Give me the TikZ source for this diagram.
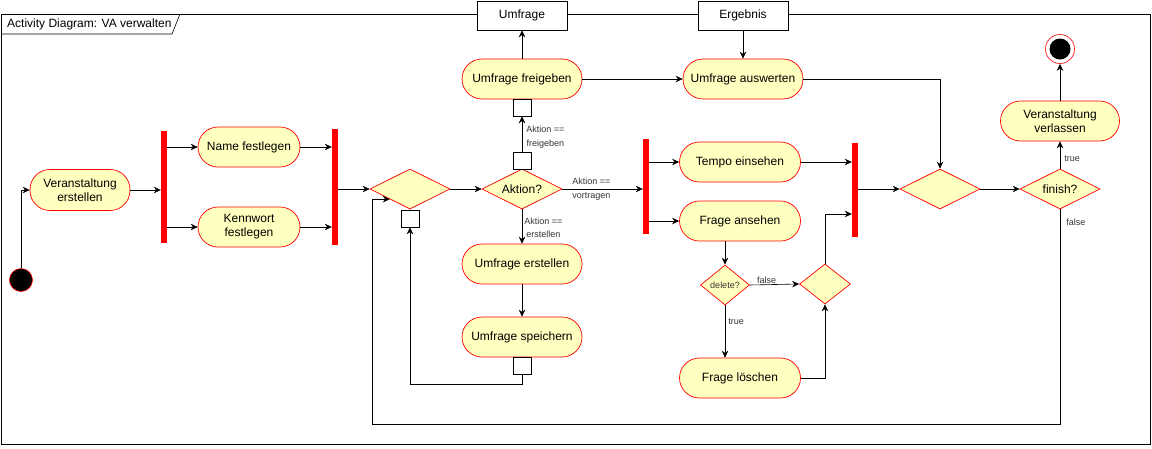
\documentclass[tikz,border=0pt]{standalone}
\usepackage{fontspec}
\setmainfont{Liberation Sans}
\usetikzlibrary{shapes.geometric,arrows.meta,calc}
\definecolor{actfill}{RGB}{255,255,192}
\begin{document}
\begin{tikzpicture}[x=1pt,y=-1pt,
  every node/.style={font=\fontsize{12}{14}\selectfont},
  act/.style={draw=red, line width=0.7pt, fill=actfill, rounded corners=20pt, align=center, inner sep=0pt, minimum height=40pt},
  dec/.style={diamond, draw=red, line width=0.7pt, fill=actfill, inner sep=0pt},
  bar/.style={fill=red, draw=none, minimum width=6pt, inner sep=0pt},
  pin/.style={draw=black, fill=white, line width=0.6pt, minimum width=18pt, minimum height=17pt, inner sep=0pt},
  obj/.style={draw=black, fill=white, line width=0.6pt, minimum width=90pt, minimum height=29pt, inner sep=0pt},
  arr/.style={-{Stealth[length=7pt,width=6.5pt]}, line width=0.6pt},
  lbl/.style={font=\fontsize{9}{13.5}\selectfont, text=black!80, align=center, inner sep=1pt},
]
\useasboundingbox (0,0) rectangle (1152,448);
% frame
\draw[line width=0.6pt] (1,14) rectangle (1150,444);
\draw[line width=0.6pt] (1,34) -- (172,34) -- (180,14);
\node[anchor=west, inner sep=0pt] (title) at (7,24) {Activity Diagram: VA verwalten};

% object nodes
\node[obj] (umf) at (522,15.5) {Umfrage};
\node[obj] (erg) at (743,15.5) {Ergebnis};

% initial / final
\node[circle, fill=black, draw=red, line width=0.6pt, minimum size=23pt, inner sep=0pt] (init) at (21,280) {};
\node[circle, draw=red, fill=white, line width=0.6pt, minimum size=29pt, inner sep=0pt] (fin) at (1060,49) {};
\node[circle, fill=black, minimum size=21pt, inner sep=0pt] (fincore) at (fin) {};

% activities
\node[act, minimum width=100pt, minimum height=41pt] (ve) at (80,190) {Veranstaltung\\erstellen};
\node[act, minimum width=102pt] (nf) at (249,147) {Name festlegen};
\node[act, minimum width=102pt] (kf) at (249,227) {Kennwort\\festlegen};
\node[act, minimum width=120pt] (uf) at (522,79) {Umfrage freigeben};
\node[act, minimum width=120pt] (ua) at (743,79) {Umfrage auswerten};
\node[act, minimum width=120pt] (ue) at (522,264) {Umfrage erstellen};
\node[act, minimum width=120pt] (us) at (522,337) {Umfrage speichern};
\node[act, minimum width=121pt] (te) at (740,162) {Tempo einsehen};
\node[act, minimum width=121pt] (fa) at (740,221) {Frage ansehen};
\node[act, minimum width=121pt] (fl) at (740,378) {Frage löschen};
\node[act, minimum width=119pt] (vv) at (1060,121) {Veranstaltung\\verlassen};

% bars
\node[bar, minimum height=112pt] (b1) at (164,187) {};
\node[bar, minimum height=116pt] (b2) at (335,187) {};
\node[bar, minimum height=95pt] (b3) at (646,186.5) {};
\node[bar, minimum height=94pt] (b4) at (855,190) {};

% decisions
\node[dec, minimum width=80pt, minimum height=40pt] (m1) at (410,189) {};
\node[dec, minimum width=80pt, minimum height=40pt, label={center:Aktion?}] (ak) at (522,189) {};
\node[dec, minimum width=80pt, minimum height=40pt] (m3) at (940,189) {};
\node[dec, minimum width=80pt, minimum height=40pt, label={center:finish?}] (fi) at (1060,189) {};
\node[dec, minimum width=49pt, minimum height=40pt, label={[font=\fontsize{9}{11}\selectfont, text=black!80]center:delete?}] (del) at (725,285) {};
\node[dec, minimum width=51pt, minimum height=40pt] (m4) at (825,284) {};

% pins
\node[pin] (p1) at (410,218.5) {};
\node[pin] (p2) at (522,161) {};
\node[pin] (p3) at (522,107.5) {};
\node[pin] (p4) at (522,365.5) {};

\coordinate (lp) at (372,424);
\coordinate (m1sw) at ($(m1.west)!0.5!(m1.south)$);

% connectors
\draw[arr] (init.north) |- (ve.west);
\draw[arr] (ve.east) -- (ve.east -| b1.west);
\draw[arr] (b1.east |- nf.west) -- (nf.west);
\draw[arr] (b1.east |- kf.west) -- (kf.west);
\draw[arr] (nf.east) -- (nf.east -| b2.west);
\draw[arr] (kf.east) -- (kf.east -| b2.west);
\draw[arr] (b2.east |- m1.west) -- (m1.west);
\draw[arr] (m1.east) -- (ak.west);
\draw[arr] (p2.north) -- node[lbl, anchor=west, pos=0.42, xshift=3pt] {Aktion ==\\freigeben} (p3.south);
\draw[arr] (uf.north) -- (umf.south);
\draw[arr] (uf.east) -- (ua.west);
\draw[arr] (erg.south) -- (ua.north);
\draw[arr] (ua.east) -| (m3.north);
\draw[arr] (ak.east) -- node[lbl, pos=0.36] {Aktion ==\\vortragen} (ak.east -| b3.west);
\draw[arr] (ak.south) -- node[lbl, anchor=west, pos=0.54, xshift=1pt] {Aktion ==\\erstellen} (ue.north);
\draw[arr] (ue.south) -- (us.north);
\draw[arr] (p4.south) -- ++(0,10) -| (p1.south);
\draw[arr] (b3.east |- te.west) -- (te.west);
\draw[arr] (b3.east |- fa.west) -- (fa.west);
\draw[arr] (te.east) -- (te.east -| b4.west);
\draw[arr] (b4.east |- m3.west) -- (m3.west);
\draw[arr] (del.north |- fa.south) -- (del.north);
\draw[arr] (del.east) -- node[lbl, anchor=south, pos=0.34] {false} (m4.west);
\draw[arr] (del.south) -- node[lbl, anchor=west, pos=0.32, xshift=2pt] {true} (del.south |- fl.north);
\draw[arr] (fl.east) -| (m4.south);
\draw[arr] (m4.north) |- ($(b4.west)+(0,24)$);
\draw[arr] (m3.east) -- (fi.west);
\draw[arr] (fi.north) -- node[lbl, anchor=west, pos=0.38, xshift=3pt] {true} (vv.south);
\draw[arr] (vv.north) -- (fin.south);
\draw[arr] (fi.south) node[lbl, anchor=west, xshift=5pt, yshift=-13pt] {false} |- (lp) |- (m1sw);
\end{tikzpicture}
\end{document}
